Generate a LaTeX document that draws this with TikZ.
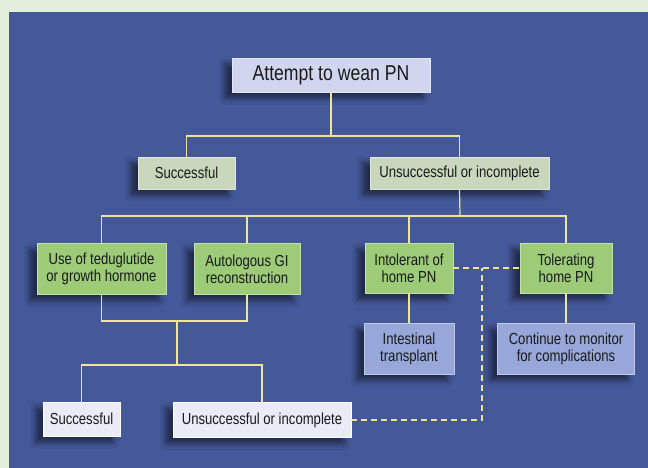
\documentclass[tikz,border=0pt]{standalone}
\usepackage{fontspec}
\setmainfont{Liberation Sans}[FakeStretch=0.82]
\usetikzlibrary{shadows.blur}
\definecolor{outerbg}{HTML}{E3EEDB}
\definecolor{panelbg}{HTML}{44589A}
\definecolor{lnyellow}{HTML}{EFE68E}
\definecolor{clav}{HTML}{D1D5EE}
\definecolor{csage}{HTML}{C9D7BD}
\definecolor{cgreen}{HTML}{9DCB78}
\definecolor{cperi}{HTML}{98A7DA}
\definecolor{cpale}{HTML}{E9ECF7}
\definecolor{txt}{HTML}{1A1A1A}
\tikzset{
  box/.style={rectangle, inner sep=0pt, align=center, text=txt,
    font=\fontsize{16}{17}\selectfont, line width=0.8pt,
    blur shadow={shadow xshift=-7pt, shadow yshift=-6pt, shadow blur radius=6pt, shadow opacity=55}},
  conn/.style={draw=lnyellow, line width=1.2pt},
  dconn/.style={draw=lnyellow, line width=1.5pt, dash pattern=on 6pt off 4pt},
}
\begin{document}
\begin{tikzpicture}[x=1pt,y=-1pt]
\useasboundingbox (0,0) rectangle (648,468);
\fill[outerbg] (0,0) rectangle (648,468);
\fill[panelbg] (9,12) rectangle (648,468);

\node[box, fill=clav, draw=clav!60!white, minimum width=198pt, minimum height=34pt,
  font=\fontsize{21.5}{23}\selectfont] (att) at (331,75) {Attempt to wean PN};
\node[box, fill=csage, draw=csage!60!white, minimum width=97pt, minimum height=32pt] (suc1) at (186.5,173) {Successful};
\node[box, fill=csage, draw=csage!60!white, minimum width=179pt, minimum height=32pt] (uns1) at (459.5,173) {Unsuccessful or incomplete};
\node[box, fill=cgreen, draw=cgreen!60!white, minimum width=129pt, minimum height=51pt] (use) at (101.5,269) {Use of teduglutide\\or growth hormone};
\node[box, fill=cgreen, draw=cgreen!60!white, minimum width=106pt, minimum height=51pt] (auto) at (247,269) {Autologous GI\\reconstruction};
\node[box, fill=cgreen, draw=cgreen!60!white, minimum width=88pt, minimum height=50pt] (intol) at (409,268) {Intolerant of\\home PN};
\node[box, fill=cgreen, draw=cgreen!60!white, minimum width=92pt, minimum height=50pt] (tol) at (566,268) {Tolerating\\home PN};
\node[box, fill=cperi, draw=cperi!60!white, minimum width=90pt, minimum height=51pt] (intest) at (409,348.5) {Intestinal\\transplant};
\node[box, fill=cperi, draw=cperi!60!white, minimum width=137pt, minimum height=51pt] (cont) at (566,348.5) {Continue to monitor\\for complications};
\node[box, fill=cpale, draw=white, minimum width=77pt, minimum height=34pt] (suc2) at (81.5,419) {Successful};
\node[box, fill=cpale, draw=white, minimum width=178pt, minimum height=35pt] (uns2) at (262,420) {Unsuccessful or incomplete};

\coordinate (b1) at (331,136);
\coordinate (b2) at (460,216);
\coordinate (b3) at (177,321);
\coordinate (b4) at (177,365);
\coordinate (d1) at (482,268);

\draw[conn] (att.south) -- (b1);
\draw[conn] (suc1.north) |- (b1) -| (uns1.north);
\draw[conn] (uns1.south) -- (b2);
\draw[conn] (use.north) |- (b2) -| (tol.north);
\draw[conn] (auto.north) -- (auto.north |- b2);
\draw[conn] (intol.north) -- (intol.north |- b2);
\draw[conn] (use.south) |- (b3) -| (auto.south);
\draw[conn] (b3) -- (b4);
\draw[conn] (suc2.north) |- (b4) -| (uns2.north);
\draw[conn] (intol.south) -- (intest.north);
\draw[conn] (tol.south) -- (cont.north);
\draw[dconn] (intol.east) -- (tol.west);
\draw[dconn] (uns2.east) -| (d1);
\end{tikzpicture}
\end{document}
